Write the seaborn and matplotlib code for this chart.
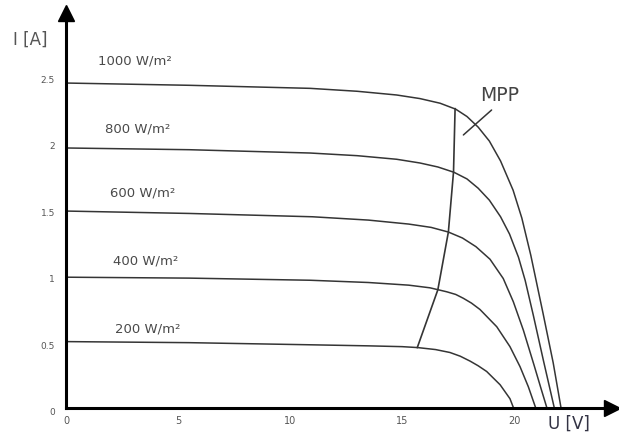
import matplotlib
matplotlib.use("Agg")
import matplotlib.pyplot as plt
import seaborn as sns
import pandas as pd

# ---- data ----
irradiance_labels = ["1000 W/m²", "800 W/m²", "600 W/m²", "400 W/m²", "200 W/m²"]

u_1000 = [0, 5.5, 10.9, 13.0, 14.76, 15.8, 16.7, 17.4, 17.9, 18.4, 18.9, 19.4,
          19.96, 20.35, 20.75, 21.3, 21.75, 22.1]
i_1000 = [2.447, 2.43, 2.407, 2.385, 2.357, 2.33, 2.295, 2.25, 2.195, 2.115, 2.01, 1.86,
          1.64, 1.43, 1.15, 0.71, 0.34, 0.0]

u_800 = [0, 5.5, 10.9, 13.0, 14.76, 15.8, 16.6, 17.32, 17.9, 18.4, 18.9, 19.4,
         19.8, 20.2, 20.5, 20.86, 21.31, 21.8]
i_800 = [1.958, 1.945, 1.92, 1.90, 1.873, 1.845, 1.815, 1.775, 1.725, 1.655, 1.565, 1.44,
         1.31, 1.135, 0.96, 0.70, 0.36, 0.0]

u_600 = [0, 5.5, 11.0, 13.5, 15.3, 16.3, 17.07, 17.7, 18.3, 18.93, 19.52, 19.97,
         20.42, 20.9, 21.2, 21.47]
i_600 = [1.483, 1.465, 1.44, 1.415, 1.385, 1.36, 1.325, 1.28, 1.215, 1.12, 0.975, 0.80,
         0.585, 0.32, 0.15, 0.0]

u_400 = [0, 5.5, 10.9, 13.5, 15.3, 16.25, 17.0, 17.4, 17.74, 18.1, 18.48, 19.23, 19.82,
         20.27, 20.64, 20.97]
i_400 = [0.985, 0.978, 0.962, 0.945, 0.925, 0.905, 0.875, 0.855, 0.826, 0.79, 0.742, 0.612,
         0.462, 0.311, 0.16, 0.0]

u_200 = [0, 5.5, 10.9, 13.5, 15.0, 15.7, 16.5, 17.14, 17.6, 18.04, 18.4, 18.78, 19.38,
         19.82, 19.98]
i_200 = [0.50, 0.492, 0.476, 0.468, 0.462, 0.455, 0.44, 0.418, 0.39, 0.353, 0.318, 0.275,
         0.175, 0.07, 0.0]

# maximum power points (1000 -> 200 W/m²)
u_mpp = [17.37, 17.3, 17.07, 16.6, 15.68]
i_mpp = [2.255, 1.778, 1.325, 0.89, 0.454]

# label anchor positions (baseline-left) for irradiance labels
label_u = [1.43, 1.74, 1.96, 2.11, 2.19]
label_i = [2.583, 2.078, 1.589, 1.084, 0.572]

x_ticks = [0, 5, 10, 15, 20]
x_tick_labels = ["0", "5", "10", "15", "20"]
y_ticks = [0, 0.5, 1, 1.5, 2, 2.5]
y_tick_labels = ["0", "0.5", "1", "1.5", "2", "2.5"]

# ---- build long-form table ----
curves_u = [u_1000, u_800, u_600, u_400, u_200]
curves_i = [i_1000, i_800, i_600, i_400, i_200]
rows = []
for lab, us, iss in zip(irradiance_labels, curves_u, curves_i):
    for k, (u, i) in enumerate(zip(us, iss)):
        rows.append({"G": lab, "U": u, "I": i, "k": k})
df = pd.DataFrame(rows)
df_mpp = pd.DataFrame({"U": u_mpp, "I": i_mpp})

sns.set_theme(style="white")
plt.rcParams["font.family"] = ["DejaVu Sans"]

fig = plt.figure(figsize=(6.19, 4.37), dpi=100)
ax = fig.add_axes([0, 0, 1, 1])

line_col = "#353535"
sns.lineplot(data=df, x="U", y="I", hue="G", palette=[line_col] * 5,
             estimator=None, sort=False, legend=False, linewidth=1.1, ax=ax)
sns.lineplot(data=df_mpp, x="U", y="I", color=line_col, estimator=None,
             sort=False, linewidth=1.2, ax=ax)

# MPP leader and label
ax.plot([17.74, 19.0], [2.056, 2.244], color=line_col, lw=1.1)
ax.text(19.35, 2.353, "MPP", fontsize=13.5, color="#444444",
        ha="center", va="center")

for lab, lu, li in zip(irradiance_labels, label_u, label_i):
    ax.text(lu, li, lab, fontsize=9.5, color="#4a4a4a", ha="left", va="baseline")

# axes limits so that the origin sits where it does in the reference
ax.set_xlim(-66 / 22.4, (619 - 66) / 22.4)
ax.set_ylim(-(437 - 408) / 132.8, 408 / 132.8)

for s in ["top", "right"]:
    ax.spines[s].set_visible(False)
ax.spines["left"].set_position(("data", 0))
ax.spines["bottom"].set_position(("data", 0))
ax.spines["left"].set_bounds(0, 2.97)
ax.spines["bottom"].set_bounds(0, 24.3)
for s in ["left", "bottom"]:
    ax.spines[s].set_linewidth(2.2)
    ax.spines[s].set_color("black")
    ax.spines[s].set_zorder(5)

# arrow heads
ax.plot([0], [2.975], marker="^", color="black", markersize=11, clip_on=False, zorder=6)
ax.plot([24.37], [0], marker=">", color="black", markersize=11, clip_on=False, zorder=6)

ax.set_xticks(x_ticks)
ax.set_xticklabels(x_tick_labels)
ax.set_yticks(y_ticks)
ax.set_yticklabels(y_tick_labels)
ax.tick_params(axis="both", direction="in", length=3.5, width=0.8, colors="#555555")
ax.tick_params(axis="x", labelsize=7, pad=6)
ax.tick_params(axis="y", labelsize=6.5, pad=8)
for t in ax.get_yticklabels():
    t.set_verticalalignment("top")
ax.set_xlabel("")
ax.set_ylabel("")
ax.grid(False)

ax.text(-1.585, 2.771, "I [A]", fontsize=12, color="#555555", ha="center", va="center")
ax.text(22.46, -0.12, "U [V]", fontsize=12, color="#333344", ha="center", va="center")

fig.savefig("out.png", dpi=100)
